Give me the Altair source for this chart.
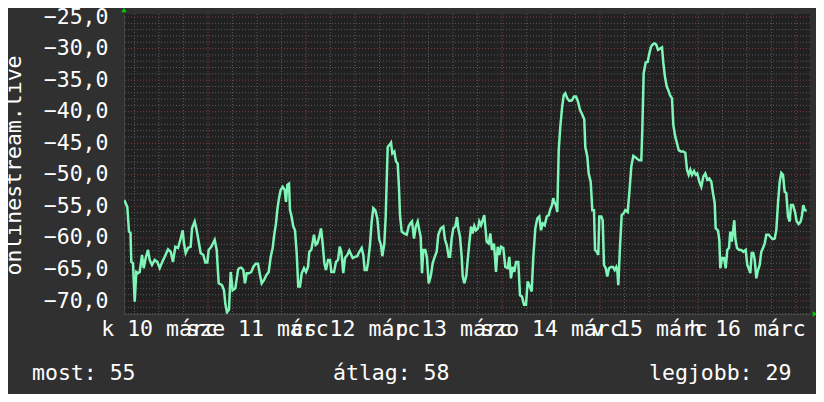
import altair as alt
import pandas as pd

# ---- data: hours since 2020-03-10 00:00 and measured value ----
hours = [
    3.5, 4.24, 4.65, 5.02, 5.22, 5.63, 6.05, 6.44, 6.86, 7.27, 7.84, 8.25, 8.74, 9.31, 9.72,
    10.29, 10.95, 11.58, 12.17, 12.81, 13.40, 14.20, 14.87, 15.43, 15.99, 16.65, 17.31, 17.80,
    18.12, 18.54, 19.10, 19.76, 20.08, 20.74, 21.23, 21.72, 22.21, 22.85, 23.34, 23.83, 24.17,
    24.81, 25.64, 26.13, 26.62, 27.43, 27.92, 28.24, 28.65, 29.14, 29.56, 30.05, 30.69, 31.35,
    31.59, 32.15, 32.65, 33.06, 33.48, 34.04, 34.60, 35.09, 35.68, 36.25, 36.66, 37.15, 37.71,
    38.28, 38.87, 39.36, 39.84, 40.16, 40.65, 40.97, 41.39, 41.80, 42.29, 42.78, 43.10, 43.42,
    43.84, 44.08, 44.40, 44.89, 45.31, 45.72, 46.11, 46.53, 46.95, 47.51, 48.00, 48.49, 48.81,
    49.30, 49.96, 50.38, 50.77, 51.26, 51.67, 52.09, 52.48, 52.90, 53.39, 53.88, 54.20, 54.86,
    55.35, 55.84, 56.25, 56.65, 57.14, 57.55, 58.12, 58.61,
    59.44, 60.00, 60.56, 61.05, 61.64, 62.03, 62.38, 62.87, 63.18, 63.67, 64.09, 64.48, 64.97,
    65.46, 65.95, 66.37, 66.69, 67.18, 67.52, 67.76, 68.01, 68.40, 68.82, 69.14, 69.63, 70.04,
    70.46, 70.78, 71.02, 71.44, 72.00, 72.66, 73.15, 73.54, 73.96, 74.45, 74.87, 75.36, 75.75,
    76.09, 76.41, 76.73, 77.22, 77.63, 78.05, 78.54, 79.03, 79.52, 80.01, 80.40, 80.99, 81.63,
    82.04, 82.46, 82.95, 83.27, 83.68, 84.07, 84.57, 84.98, 85.30, 85.72, 86.13, 86.38, 86.77,
    87.26, 87.60, 87.99, 88.41, 88.82, 89.21, 89.63, 90.12, 90.44, 90.86, 91.27, 91.66, 91.91,
    92.25, 92.74, 93.14, 93.55, 94.04, 94.53, 94.95, 95.34, 95.76, 96.32, 96.81, 97.40, 97.79,
    98.20, 98.62, 99.01, 99.43, 99.99, 100.41, 100.90, 101.39, 101.88, 102.29, 102.69, 103.27,
    103.67, 104.16, 104.65, 105.14, 105.55, 105.97, 106.46, 106.95, 107.44, 107.76, 108.25,
    108.56, 108.91, 109.22, 109.54, 109.89, 110.28, 110.69, 111.11, 111.50, 111.99, 112.48,
    113.14, 113.63, 114.12, 114.61, 115.10, 115.76, 116.15, 116.40, 116.89, 117.23, 117.72,
    118.12, 118.53, 118.78, 119.19, 119.58, 119.83, 120.32, 120.66, 120.98, 121.40, 121.79,
    122.20, 122.69, 123.18, 123.60, 123.99, 124.24, 124.48, 124.90, 125.31, 125.80, 126.20,
    126.78, 127.18, 127.67, 128.16, 128.65, 129.14, 129.63, 130.12, 130.36, 130.70, 131.19,
    131.68, 132.08, 132.49, 132.98, 133.40, 133.79, 134.21, 134.70, 135.19, 135.51, 135.92,
    136.34, 136.73, 137.14, 137.63, 137.96, 138.44, 138.86, 139.28, 139.77, 140.33, 140.89,
    141.31, 141.72, 142.12, 142.53, 143.02, 143.44, 143.83, 144.32, 144.81, 145.30, 145.79,
    146.28, 146.77, 147.26, 147.67, 148.09, 148.33, 148.90, 149.22, 149.46, 149.88, 150.37,
    150.79, 151.18, 151.59, 151.91, 152.25, 152.57, 152.89, 153.14, 153.55, 154.12, 154.61,
    155.10, 155.68, 156.07, 156.42, 156.81, 157.15, 157.54, 157.89, 158.28, 158.70, 159.11,
    159.50, 159.92, 160.33, 160.73, 161.32, 161.81, 162.29, 162.78, 163.18, 163.59, 164.01,
    164.40, 164.82, 165.23, 165.62, 166.04, 166.45, 166.77, 167.26, 167.76, 168.17, 168.66,
    169.15, 169.47, 169.79, 170.13, 170.62,
]
values = [
    -54.0, -55.1, -59.0, -59.2, -63.8, -64.0, -70.1, -65.4, -65.6, -65.4, -62.7, -64.8, -63.2, -61.9, -63.5,
    -64.3, -63.5, -63.8, -64.8, -63.8, -63.0, -61.8, -62.2, -63.8, -61.4, -61.6, -60.1, -58.8,
    -60.9, -62.4, -61.6, -61.4, -58.5, -57.4, -58.8, -60.6, -62.4, -62.7, -63.9, -63.9, -61.9,
    -61.4, -60.3, -61.9, -67.2, -67.5, -68.3, -70.4, -71.8, -71.4, -65.4, -68.3, -68.0, -65.1,
    -64.8, -64.7, -65.1, -67.2, -65.6, -65.6, -65.4, -64.6, -64.1, -64.1, -65.6, -67.2, -66.7,
    -65.9, -65.4, -63.0, -61.6, -59.8, -57.7, -55.6, -53.7, -52.4, -51.9, -52.4, -54.3, -51.6,
    -51.4, -55.6, -56.4, -58.2, -58.8, -62.4, -67.7, -67.7, -65.6, -64.8, -65.4, -64.6, -62.2,
    -61.9, -59.5, -61.1, -60.9, -59.8, -58.5, -60.9, -64.0, -65.1, -63.5, -63.5, -65.4, -65.4,
    -63.8, -63.5, -61.4, -62.2, -65.6, -63.2, -62.7, -62.0,
    -63.2, -63.0, -62.9, -62.2, -61.6, -62.7, -65.1, -65.1, -64.0, -61.1, -57.4, -55.3, -55.6,
    -56.9, -60.3, -61.1, -62.9, -60.9, -56.6, -51.1, -45.6, -45.3, -44.9, -46.6, -46.3, -47.9,
    -48.2, -52.1, -56.4, -59.0, -59.3, -59.5, -58.2, -57.7, -57.4, -60.1, -58.2, -57.4, -58.8,
    -59.8, -65.6, -61.9, -61.9, -63.2, -67.2, -66.1, -64.0, -63.0, -62.2, -59.5, -58.5, -58.2,
    -60.3, -61.1, -63.0, -63.0, -60.1, -58.5, -58.2, -56.7, -58.5, -59.8, -63.0, -66.1, -67.2,
    -66.0, -63.5, -60.9, -58.2, -59.3, -58.1, -58.8, -58.5, -57.4, -58.0, -57.2, -56.4, -58.2,
    -60.6, -60.9, -59.3, -61.9, -60.9, -65.4, -61.4, -62.7, -61.4, -61.6, -64.6, -64.8, -63.0,
    -66.4, -64.6, -65.4, -63.8, -63.8, -69.1, -69.3, -70.6, -70.6, -66.9, -67.5, -68.5,
    -63.0, -58.5, -56.9, -56.6, -58.8, -57.7, -58.0, -56.6, -56.4, -55.6, -54.8,
    -53.7, -54.5, -54.8, -55.9, -46.1, -42.4, -39.5, -37.4, -37.1, -37.9, -38.3,
    -38.2, -37.6, -37.6, -38.4, -39.7, -40.6, -41.2, -45.6, -47.1, -49.8, -51.1,
    -55.6, -55.6, -61.9, -62.2, -62.7, -56.6, -56.6, -57.2, -64.3, -64.8, -66.1,
    -64.8, -64.6, -64.6, -65.1, -64.6, -65.1, -67.5, -61.4, -56.4, -56.1, -55.6,
    -55.9, -52.9, -48.7, -47.0, -47.2, -47.5, -47.7, -47.7, -42.9, -33.9, -32.2,
    -32.1, -30.8, -29.7, -29.3, -29.2, -29.4, -30.2, -30.0, -29.8, -32.3, -34.5,
    -36.0, -36.6, -37.4, -37.9, -42.1, -44.0, -45.0, -46.1, -46.3, -46.3, -46.5,
    -49.2, -50.0, -49.2, -50.0, -49.4, -50.0, -49.8, -51.1, -51.9, -50.3, -49.8,
    -50.8, -50.6, -51.1, -52.9, -54.5, -58.5, -58.8, -60.3, -64.8, -63.2, -63.2,
    -64.8, -61.9, -61.6, -59.0, -60.6, -59.0, -57.2, -60.1, -61.6, -61.9, -61.9,
    -62.2, -61.9, -64.3, -64.8, -65.6, -62.4, -62.4, -63.5, -66.4, -65.1, -64.3,
    -62.2, -61.6, -60.9, -59.5, -59.5, -59.9, -60.2, -60.1, -58.8, -54.5, -51.1,
    -49.7, -50.0, -52.7, -52.9, -56.6, -57.4, -54.8, -54.8, -55.9, -57.4, -57.8,
    -57.4, -56.4, -54.8, -55.6, -55.7,
]

y_ticks = [-70, -65, -60, -55, -50, -45, -40, -35, -30, -25]
day_hours = [12, 36, 60, 84, 108, 132, 156]
day_labels = ["k 10 márc", "sze 11 márc", "cs 12 márc", "p 13 márc",
              "szo 14 márc", "v 15 márc", "h 16 márc"]
minor_y = [v for v in range(-72, -24) if v % 5 != 0]
major_y = [v for v in range(-70, -24, 5)]
minor_x = [h for h in range(6, 172, 6) if h % 24 != 0]
major_x = [24, 48, 72, 96, 120, 144, 168]
legend_texts = ["most: 55", "átlag: 58", "legjobb: 29"]
y_title = "onlinestream.live"

X_DOMAIN = [3.43, 171.43]
Y_DOMAIN = [-72.06, -24.52]
FONT = "DejaVu Sans Mono"
FS = 21.5
W, H = 686, 300

df = pd.DataFrame({"h": hours, "v": values})

xs = alt.Scale(domain=X_DOMAIN, nice=False, zero=False)
ys = alt.Scale(domain=Y_DOMAIN, nice=False, zero=False)

label_expr = ""
for hh, lab in zip(day_hours, day_labels):
    label_expr += f"datum.value == {hh} ? '{lab}' : "
label_expr += "''"

x_axis = alt.Axis(
    values=day_hours, labelExpr=label_expr, ticks=False, grid=False,
    domain=True, domainColor="#444444", labelOverlap=False, labelBound=False,
    labelFlush=False, labelFont=FONT, labelFontSize=FS, labelColor="#ffffff",
    labelPadding=4, labelBaseline="top", title=None)
y_axis = alt.Axis(
    values=y_ticks, labelExpr="replace(format(datum.value, '.1f'), '.', ',')",
    ticks=False, grid=False, domain=True, domainColor="#444444",
    labelFont=FONT, labelFontSize=FS, labelColor="#ffffff", labelPadding=16,
    labelOverlap=False, labelBound=False, labelFlush=False,
    title=y_title, titleFont=FONT, titleFontSize=FS, titleFontWeight="normal",
    titleColor="#ffffff", titleAngle=270, titleX=-110, titleY=151,
    titleAlign="center", titleBaseline="middle")

GRAY = "#5a5a5a"
RED = "#8a3a3a"


def hrule(vals, color):
    return alt.Chart(pd.DataFrame({"v": vals})).mark_rule(
        color=color, strokeDash=[1, 2], strokeWidth=1
    ).encode(y=alt.Y("v:Q", scale=ys, axis=y_axis))


def vrule(vals, color):
    return alt.Chart(pd.DataFrame({"h": vals})).mark_rule(
        color=color, strokeDash=[1, 2], strokeWidth=1
    ).encode(x=alt.X("h:Q", scale=xs, axis=x_axis))


line = alt.Chart(df).mark_line(color="#7ff5b8", strokeWidth=2.5, clip=True).encode(
    x=alt.X("h:Q", scale=xs, axis=x_axis),
    y=alt.Y("v:Q", scale=ys, axis=y_axis),
)


def legend_text(txt, x):
    return alt.Chart(pd.DataFrame({"t": [txt]})).mark_text(
        font=FONT, fontSize=FS, color="#ffffff", align="left", baseline="middle"
    ).encode(text="t:N", x=alt.value(x), y=alt.value(360))


arrow_up = alt.Chart(pd.DataFrame({"a": [0]})).mark_point(
    shape="triangle-up", filled=True, color="#00cc00", size=30, opacity=1
).encode(x=alt.value(0), y=alt.value(-4))
arrow_right = alt.Chart(pd.DataFrame({"a": [0]})).mark_point(
    shape="triangle-right", filled=True, color="#00cc00", size=30, opacity=1
).encode(x=alt.value(691), y=alt.value(300))

chart = alt.layer(
    hrule(minor_y, GRAY), vrule(minor_x, GRAY),
    hrule(major_y, RED), vrule(major_x, RED),
    line,
    legend_text(legend_texts[0], -92),
    legend_text(legend_texts[1], 209),
    legend_text(legend_texts[2], 525),
    arrow_up, arrow_right,
).properties(
    width=W, height=H,
    autosize=alt.AutoSizeParams(type="none"),
    padding={"left": 116, "top": 6, "right": 6, "bottom": 80},
    background="#303030",
).configure_view(fill="#212121", stroke=None)

chart.save("out.html", embed_options={"renderer": "svg", "actions": False})
